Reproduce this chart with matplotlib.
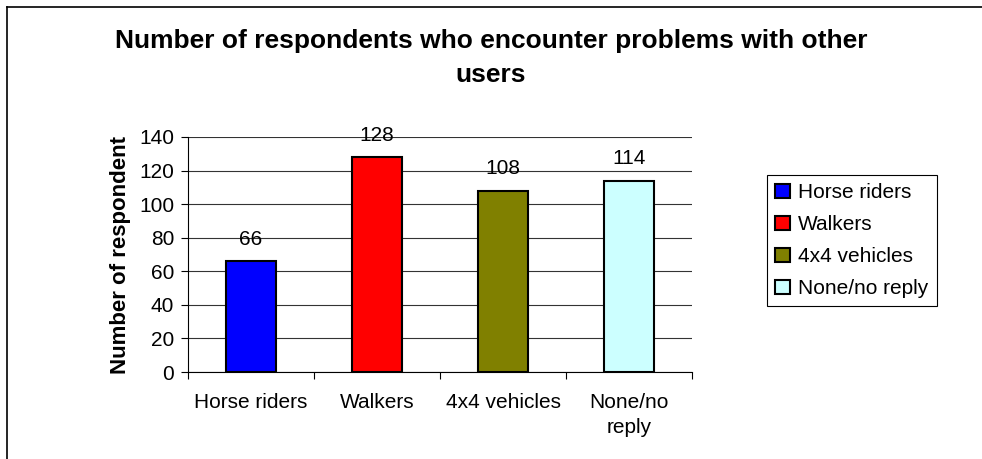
import matplotlib.pyplot as plt
import matplotlib.lines as mlines
import numpy as np

plt.rcParams['font.family'] = ['Liberation Sans', 'DejaVu Sans']

categories = ['Horse riders', 'Walkers', '4x4 vehicles', 'None/no\nreply']
legend_labels = ['Horse riders', 'Walkers', '4x4 vehicles', 'None/no reply']
values = [66, 128, 108, 114]
colors = ['#0000FF', '#FF0000', '#808000', '#CCFFFF']
yticks = [0, 20, 40, 60, 80, 100, 120, 140]

fig = plt.figure(figsize=(9.82, 4.59), dpi=100)
ax = fig.add_axes([188/982, 1-372/459, (692-188)/982, (372-137)/459])

x = np.arange(len(values))
bars = ax.bar(x, values, width=0.4, color=colors, edgecolor='black', linewidth=1.5,
              label=legend_labels, zorder=3)

for xi, v in zip(x, values):
    ax.annotate(str(v), (xi, v), xytext=(0, 9), textcoords='offset points',
                ha='center', va='bottom', fontsize=15)

ax.set_xlim(-0.5, 3.5)
ax.set_ylim(0, 140)
ax.set_yticks(yticks)
ax.yaxis.grid(True, color='#333333', linewidth=0.8, zorder=0)
ax.set_axisbelow(True)

ax.set_xticks(np.arange(-0.5, 4, 1))
ax.set_xticklabels([])
ax.set_xticks(x, minor=True)
ax.set_xticklabels(categories, minor=True, fontsize=15)
for lbl in ax.get_xticklabels(minor=True):
    lbl.set_linespacing(1.4)
ax.tick_params(axis='x', which='minor', length=0, pad=15)
ax.tick_params(axis='x', which='major', length=5, width=0.8)
ax.tick_params(axis='y', labelsize=15, length=5, width=0.8, pad=5)

for side in ['top', 'right']:
    ax.spines[side].set_visible(False)
for side in ['left', 'bottom']:
    ax.spines[side].set_linewidth(0.8)

ax.set_ylabel('Number of respondent', fontsize=16, fontweight='bold', labelpad=6)

fig.text(0.5, 1-29/459, 'Number of respondents who encounter problems with other\nusers',
         ha='center', va='top', fontsize=19, fontweight='bold', linespacing=1.55)

leg = fig.legend(handles=bars, labels=legend_labels, loc='upper left',
                 bbox_to_anchor=(767/982, 1-175/459), fontsize=15,
                 handlelength=0.7, handleheight=0.7, handletextpad=0.4,
                 labelspacing=0.62, borderpad=0.4, borderaxespad=0, fancybox=False,
                 edgecolor='black', framealpha=1)
leg.get_frame().set_linewidth(0.8)

# outer chart frame (cropped on the right and bottom)
fig.add_artist(mlines.Line2D([7/982, 1], [1-7/459, 1-7/459], color='black', linewidth=1.2))
fig.add_artist(mlines.Line2D([7/982, 7/982], [0, 1-7/459], color='black', linewidth=1.2))

fig.savefig('out.png', dpi=100)
